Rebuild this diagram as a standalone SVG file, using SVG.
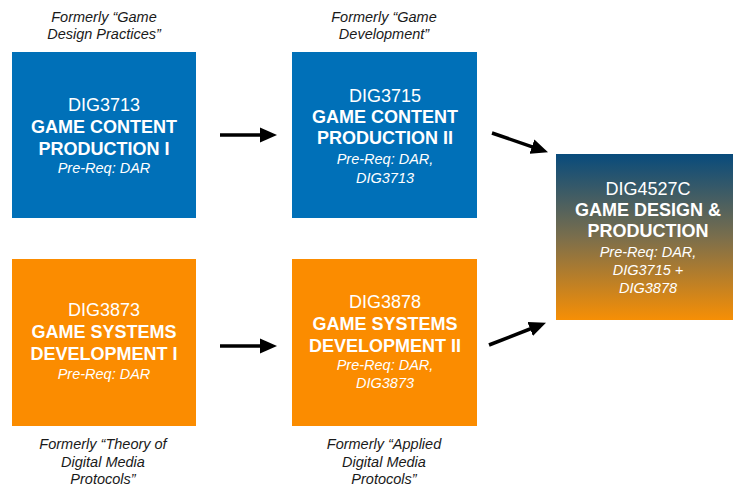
<svg xmlns="http://www.w3.org/2000/svg" width="733" height="487" viewBox="0 0 733 487">
<style>
text{font-family:"Liberation Sans",Arial,Helvetica,sans-serif;text-anchor:middle}
.code{font-size:18px;fill:#ffffff}
.title{font-size:18px;font-weight:bold;fill:#ffffff}
.req{font-size:14.5px;font-style:italic;fill:#ffffff}
.note{font-size:14.5px;font-style:italic;fill:#1a1a1a}
.blue{fill:#0070b8}
.orange{fill:#fb8c00}
.conn{stroke:#000;stroke-width:3.5;fill:none;marker-end:url(#ah)}
</style>
<defs>
<marker id="ah" markerUnits="userSpaceOnUse" markerWidth="18" markerHeight="16" viewBox="0 0 18 16" refX="8" refY="8" orient="auto">
<path d="M0,0.5 L17,8 L0,15.5 Z" fill="#000"/>
</marker>
<linearGradient id="grad" x1="0" y1="0" x2="0" y2="1">
<stop offset="0" stop-color="#084b7c"/>
<stop offset="0.5" stop-color="#7a6e4c"/>
<stop offset="1" stop-color="#f78f05"/>
</linearGradient>
</defs>
<rect width="733" height="487" fill="#ffffff"/>

<g id="dig3713">
<text class="note" x="104" y="22">Formerly “Game</text>
<text class="note" x="104" y="39">Design Practices”</text>
<rect class="blue" x="12" y="52" width="184" height="166"/>
<text class="code" x="104" y="111">DIG3713</text>
<text class="title" x="104" y="133">GAME CONTENT</text>
<text class="title" x="104" y="155">PRODUCTION I</text>
<text class="req" x="104" y="173">Pre-Req: DAR</text>
</g>

<g id="dig3715">
<text class="note" x="384" y="22">Formerly “Game</text>
<text class="note" x="384" y="39">Development”</text>
<rect class="blue" x="292" y="52" width="185" height="166"/>
<text class="code" x="385" y="102">DIG3715</text>
<text class="title" x="385" y="123">GAME CONTENT</text>
<text class="title" x="385" y="144">PRODUCTION II</text>
<text class="req" x="385" y="164">Pre-Req: DAR,</text>
<text class="req" x="385" y="183">DIG3713</text>
</g>

<g id="dig3873">
<rect class="orange" x="12" y="259" width="184" height="167"/>
<text class="code" x="104" y="316">DIG3873</text>
<text class="title" x="104" y="338">GAME SYSTEMS</text>
<text class="title" x="104" y="360">DEVELOPMENT I</text>
<text class="req" x="104" y="379">Pre-Req: DAR</text>
<text class="note" x="103" y="449">Formerly “Theory of</text>
<text class="note" x="103" y="467">Digital Media</text>
<text class="note" x="103" y="484">Protocols”</text>
</g>

<g id="dig3878">
<rect class="orange" x="292" y="259" width="185" height="167"/>
<text class="code" x="385" y="308">DIG3878</text>
<text class="title" x="385" y="330">GAME SYSTEMS</text>
<text class="title" x="385" y="352">DEVELOPMENT II</text>
<text class="req" x="385" y="370">Pre-Req: DAR,</text>
<text class="req" x="385" y="388">DIG3873</text>
<text class="note" x="384" y="449">Formerly “Applied</text>
<text class="note" x="384" y="467">Digital Media</text>
<text class="note" x="384" y="484">Protocols”</text>
</g>

<g id="dig4527c">
<rect x="556" y="154" width="184" height="166" fill="url(#grad)"/>
<text class="code" x="648" y="195">DIG4527C</text>
<text class="title" x="648" y="216">GAME DESIGN &amp;</text>
<text class="title" x="648" y="237">PRODUCTION</text>
<text class="req" x="648" y="257">Pre-Req: DAR,</text>
<text class="req" x="648" y="275">DIG3715 +</text>
<text class="req" x="648" y="293">DIG3878</text>
</g>

<g id="connectors">
<line class="conn" x1="220" y1="135" x2="268" y2="135"/>
<line class="conn" x1="220" y1="346" x2="268" y2="346"/>
<line class="conn" x1="492" y1="133" x2="539.5" y2="149.3"/>
<line class="conn" x1="489" y1="345" x2="537.6" y2="326"/>
</g>
</svg>
